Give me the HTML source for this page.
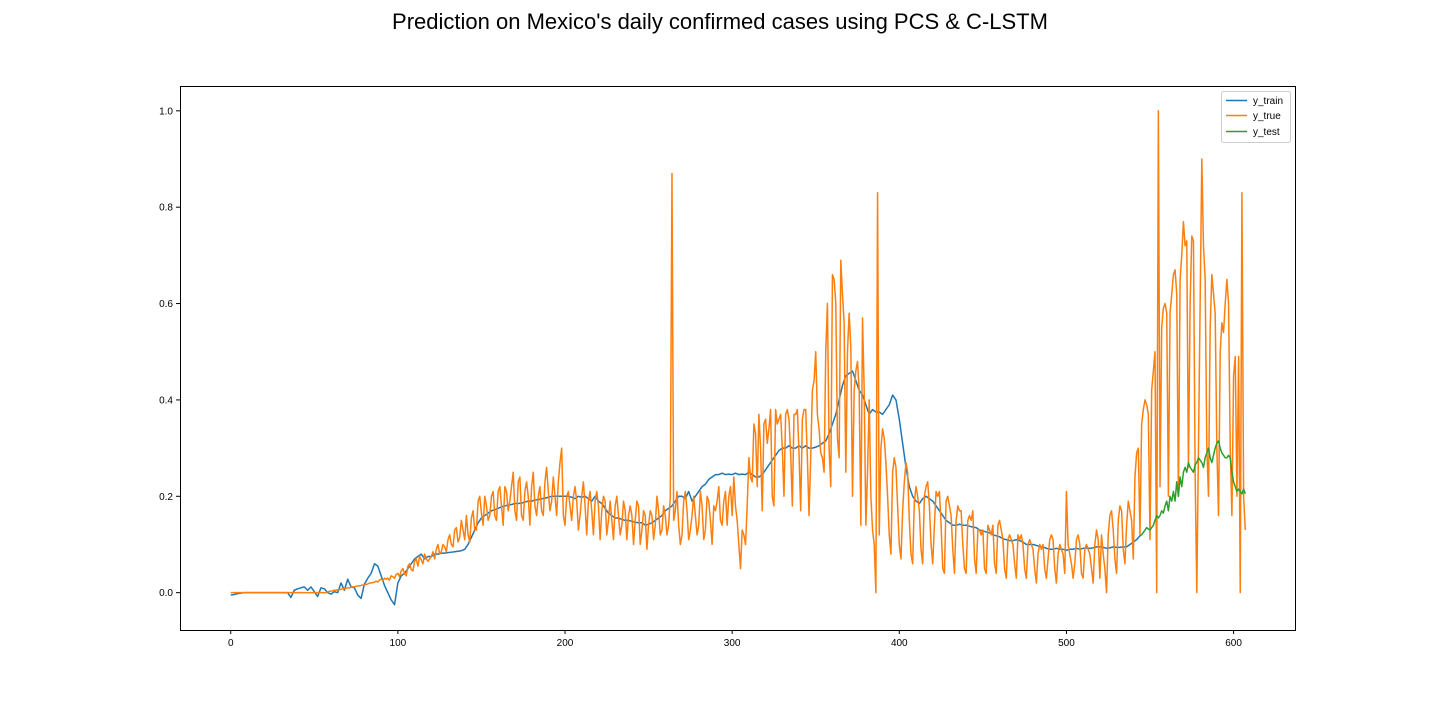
<!DOCTYPE html>
<html><head><meta charset="utf-8"><style>
body{margin:0;background:#fff;font-family:"Liberation Sans",sans-serif}
</style></head><body>
<svg id="chart" width="1440" height="720" xmlns="http://www.w3.org/2000/svg" font-family="Liberation Sans, sans-serif">
<rect width="1440" height="720" fill="#fff"/>
<text x="720" y="29" text-anchor="middle" font-size="22">Prediction on Mexico's daily confirmed cases using PCS &amp; C-LSTM</text>
<g id="plot"></g>
<rect x="180.5" y="86.5" width="1115" height="544" fill="none" stroke="#000" stroke-width="1"/>
<g id="legend">
<rect x="1221.5" y="91.5" width="69" height="51" fill="#fff" stroke="#ccc" rx="2"/>
<line x1="1226" y1="100.5" x2="1247" y2="100.5" stroke="#1f77b4" stroke-width="1.5"/>
<text x="1253" y="104" font-size="10">y_train</text>
<line x1="1226" y1="115.5" x2="1247" y2="115.5" stroke="#ff7f0e" stroke-width="1.5"/>
<text x="1253" y="119" font-size="10">y_true</text>
<line x1="1226" y1="131.5" x2="1247" y2="131.5" stroke="#2ca02c" stroke-width="1.5"/>
<text x="1253" y="135" font-size="10">y_test</text>
</g>
</svg>
<script>
const xTicks=[0,100,200,300,400,500,600];
const yTicks=[0.0,0.2,0.4,0.6,0.8,1.0];
const yTrue=[
0,0,0,0,0,0,0, 0,0,0,0,0,0,0, 0,0,0,0,0,0,0, 0,0,0,0,0,0,0,
0,0,0,0,0,0,0, 0,0,0,0,0,0,0, 0,0,0,0,0,0,0, 0,0,0,0,0,0,0,
0,0,.002,.003,.003,.004,.005, .005,.006,.006,.007,.008,.008,.009,
.01,.01,.011,.012,.012,.013,.014, .014,.015,.016,.016,.017,.018,.02,
.02,.021,.022,.024,.022,.026,.028, .025,.03,.028,.03,.026,.035,.033,
.03,.038,.04,.033,.045,.05,.04, .035,.055,.06,.048,.045,.065,.07,
.055,.075,.068,.06,.08,.07,.065, .07,.075,.085,.07,.09,.1,.08,
.085,.1,.095,.085,.11,.12,.1, .095,.13,.135,.105,.115,.15,.13,
.11,.16,.12,.105,.155,.17,.13, .13,.19,.2,.165,.14,.2,.18,
.15,.16,.2,.21,.16,.15,.21, .22,.18,.14,.22,.21,.17,.19,
.22,.25,.17,.15,.23,.24,.16, .15,.21,.23,.2,.14,.22,.25,
.18,.16,.2,.22,.17,.16,.23, .26,.21,.17,.19,.24,.2,.16,
.23,.27,.3,.16,.14,.2,.21, .18,.15,.2,.22,.19,.13,.16,
.2,.23,.18,.12,.19,.21,.17, .12,.19,.21,.18,.11,.17,.2,
.19,.12,.15,.19,.15,.11,.18, .2,.16,.12,.14,.19,.17,.11,
.16,.18,.16,.1,.15,.19,.18, .1,.13,.17,.16,.09,.14,.17,
.16,.11,.14,.2,.17,.12,.13, .18,.16,.12,.14,.2,.87,.15,
.17,.21,.14,.1,.12,.19,.21, .17,.11,.13,.16,.2,.16,.12,
.14,.21,.18,.11,.13,.2,.19, .15,.1,.18,.17,.19,.22,.15,
.14,.19,.21,.14,.2,.22,.16, .24,.18,.15,.1,.05,.13,.12,
.1,.18,.28,.24,.23,.35,.33, .22,.37,.3,.17,.35,.36,.31,
.34,.38,.2,.18,.38,.35,.36, .37,.3,.2,.37,.38,.36,.29,
.18,.37,.37,.38,.29,.17,.36, .38,.38,.28,.16,.28,.42,.44,
.5,.37,.34,.29,.28,.25,.5, .6,.3,.22,.66,.65,.6,.32,
.28,.69,.62,.56,.25,.5,.58, .51,.2,.42,.46,.48,.42,.14,
.57,.42,.14,.25,.4,.2,.13, .1,0,.83,.12,.3,.34,.32,
.27,.2,.12,.08,.25,.28,.26, .18,.1,.07,.17,.23,.27,.25,
.15,.08,.06,.19,.22,.2,.17, .09,.06,.2,.22,.23,.18,.1,
.06,.14,.21,.2,.21,.14,.05, .04,.19,.2,.18,.16,.09,.04,
.15,.18,.17,.17,.1,.05,.04, .15,.16,.15,.17,.07,.04,.13,
.13,.12,.13,.05,.04,.14,.13, .12,.14,.06,.04,.14,.15,.13,
.11,.05,.03,.11,.12,.11,.1, .06,.03,.12,.11,.12,.1,.05,
.03,.1,.11,.1,.09,.05,.02, .08,.1,.09,.1,.05,.03,.07,
.11,.12,.11,.05,.02,.08,.1, .09,.08,.04,.21,.1,.08,.06,
.03,.06,.11,.12,.1,.04,.03, .09,.1,.09,.08,.05,.02,.1,
.13,.11,.03,.12,.08,.05,0, .12,.16,.17,.13,.07,.04,.15,
.18,.17,.09,.06,.14,.19,.17, .15,.07,.24,.29,.3,.12,.35,
.38,.4,.39,.37,.11,.42,.46, .5,0,1.0,.22,.55,.59,.6,
.58,.2,.58,.62,.66,.67,.62, .2,.65,.7,.77,.72,.73,.26,
.6,.74,.73,.25,0,.3,.6, .9,.72,.65,.3,.2,.55,.66,
.62,.58,.3,.16,.5,.56,.54, .6,.65,.6,.3,.16,.45,.49,
.2,.49,0,.83,.2,.13];
const trainStep=2;
const yTrain=[
-.005,-.004,-.002,-.001,0,0,0,0,0,0,
0,0,0,0,0,0,0,0,-.01,.005,
.008,.01,.012,.005,.012,.002,-.008,.01,.008,0,
-.003,.002,0,.02,.005,.028,.012,.01,-.005,-.012,
.018,.03,.04,.06,.055,.035,.015,0,-.015,-.025,
.02,.035,.04,.05,.06,.07,.075,.08,.07,.075,
.075,.08,.08,.082,.082,.083,.084,.085,.086,.087,
.09,.1,.115,.13,.145,.155,.16,.165,.17,.172,
.175,.178,.18,.182,.183,.185,.185,.186,.188,.19,
.19,.192,.193,.195,.196,.198,.2,.2,.2,.2,
.2,.2,.198,.195,.2,.198,.2,.195,.19,.2,
.19,.185,.175,.165,.16,.155,.155,.152,.15,.15,
.148,.146,.145,.145,.14,.142,.145,.15,.155,.16,
.17,.175,.18,.19,.2,.2,.195,.21,.19,.2,
.21,.22,.225,.235,.24,.245,.245,.248,.245,.246,
.245,.248,.245,.246,.245,.25,.245,.24,.24,.245,
.255,.265,.275,.285,.295,.3,.3,.305,.3,.3,
.305,.3,.305,.3,.3,.302,.305,.31,.315,.33,
.35,.37,.4,.43,.45,.455,.46,.44,.42,.41,
.39,.37,.38,.375,.375,.37,.38,.39,.41,.4,
.36,.31,.26,.22,.2,.19,.185,.195,.2,.195,
.19,.18,.17,.16,.15,.145,.14,.14,.142,.14,
.14,.138,.136,.135,.13,.128,.126,.124,.12,.118,
.116,.112,.11,.108,.108,.11,.108,.105,.1,.1,
.1,.098,.096,.095,.092,.09,.09,.092,.09,.09,
.088,.09,.09,.092,.09,.092,.093,.092,.093,.095,
.095,.094,.092,.093,.095,.094,.094,.095,.095,.1,
.105,.11,.118];
const testStart=544;
const yTest=[
.118,.12,.125,.13,.135,.132,.13,.135,.14,.15,
.16,.155,.16,.17,.165,.18,.19,.17,.2,.19,
.21,.19,.23,.2,.24,.22,.25,.26,.25,.27,
.26,.255,.25,.265,.27,.28,.275,.27,.26,.28,
.29,.3,.28,.27,.285,.3,.31,.315,.3,.29,
.285,.28,.28,.285,.28,.25,.23,.22,.21,.215,
.21,.205,.215,.205];
const NS='http://www.w3.org/2000/svg';
const L=180,R=1296,T=86,B=630;
const xMin=-30.35,xMax=637.35,yMin=-0.0775,yMax=1.0515;
const X=v=>L+(v-xMin)/(xMax-xMin)*(R-L);
const Y=v=>B-(v-yMin)/(yMax-yMin)*(B-T);
const g=document.getElementById('plot');
function mk(tag,attrs){const e=document.createElementNS(NS,tag);for(const k in attrs)e.setAttribute(k,attrs[k]);return e;}
xTicks.forEach(t=>{
  const ln=mk('line',{x1:X(t),x2:X(t),y1:B,y2:B+4,stroke:'#000'});
  
  
  g.appendChild(ln);
  const tx=mk('text',{x:X(t),y:B+16,'text-anchor':'middle','font-size':10});
  
  
  tx.textContent=t;g.appendChild(tx);
});
yTicks.forEach(t=>{
  const ln=mk('line',{x1:L-4,x2:L,y1:Y(t),y2:Y(t),stroke:'#000'});
  
  
  g.appendChild(ln);
  const tx=mk('text',{x:L-7,y:Y(t)+3.5,'text-anchor':'end','font-size':10});
  
  
  tx.textContent=t.toFixed(1);g.appendChild(tx);
});
function line(vals,x0,step,color,name){
  const d=vals.map((v,i)=>(i?'L':'M')+X(x0+i*step).toFixed(2)+','+Y(v).toFixed(2)).join('');
  const p=mk('path',{d:d,fill:'none',stroke:color,'stroke-width':1.5,'stroke-linejoin':'round'});
  
  
  g.appendChild(p);
}
line(yTrain,0,trainStep,'#1f77b4','y-train-line');
line(yTrue,0,1,'#ff7f0e','y-true-line');
line(yTest,testStart,1,'#2ca02c','y-test-line');
</script>
</body></html>
